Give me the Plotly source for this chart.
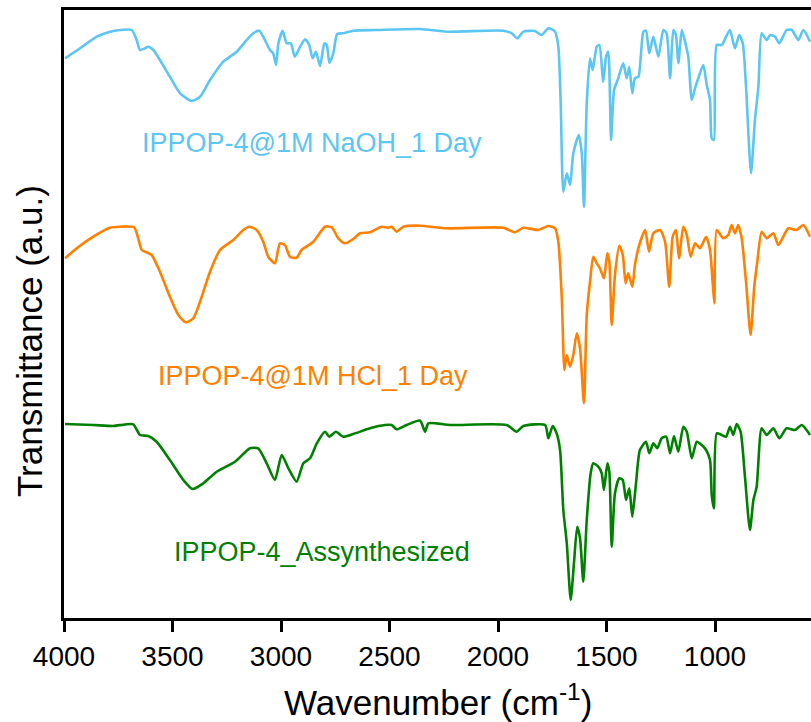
import plotly.graph_objects as go

# ---------------- data (wavenumber cm-1, transmittance a.u. incl. stacking offset) -------------
naoh_wn = [3995, 3926, 3849, 3788, 3742, 3688, 3665, 3650, 3627, 3612, 3588, 3558, 3512, 3465,
           3412, 3373, 3327, 3266, 3204, 3158, 3128, 3100, 3082, 3051, 3036, 3023, 3012, 2992,
           2974, 2955, 2936, 2912, 2889, 2870, 2854, 2839, 2820, 2800, 2789, 2777, 2759, 2741,
           2713, 2667, 2559, 2359, 2236, 1976, 1937, 1911, 1883, 1830, 1799, 1768, 1737, 1722,
           1711, 1699, 1683, 1668, 1653, 1628, 1614, 1604, 1591, 1576, 1564, 1545, 1533, 1515,
           1502, 1492, 1479, 1465, 1446, 1423, 1407, 1395, 1381, 1369, 1353, 1330, 1318, 1303,
           1284, 1261, 1238, 1223, 1207, 1192, 1180, 1169, 1153, 1138, 1123, 1107, 1092, 1077,
           1054, 1038, 1023, 1015, 1005, 992, 969, 949, 931, 908, 888, 872, 857, 834, 816, 800,
           785, 762, 746, 723, 704, 670, 646, 616, 593, 562]
naoh_t = [559.7, 569.7, 581.3, 586.3, 588, 588, 578, 568, 569.7, 571.3, 568, 558, 541.3, 524.7,
          517, 521.3, 538, 556.3, 566.3, 578, 584.7, 587.3, 581.3, 568, 564.7, 553, 574.7, 587.3,
          574.7, 574.7, 561.3, 571.3, 578.7, 573, 559.7, 566.3, 552, 574.7, 573, 555.3, 564.7, 584,
          584.7, 587.3, 588, 589, 586.3, 587.3, 584.7, 579.7, 586.3, 587, 583, 589.7, 586.3, 571.3,
          514.7, 426.3, 444.7, 433, 464.7, 483, 464.7, 411.3, 514.7, 559.7, 548, 571.3, 573, 536.3,
          561.3, 566.3, 478, 528, 539.7, 554.7, 539.7, 551.3, 524.7, 539.7, 541.3, 586.3, 587.3, 564.7,
          581.3, 561.3, 588, 584.7, 539.7, 588, 583, 554.7, 588, 576.3, 561.3, 518, 529.7, 539.7,
          553, 533, 518, 479.7, 478, 573, 573, 581.3, 588, 569.7, 583, 574.7, 531.3, 444.7, 498, 531.3,
          584.7, 578, 583, 581.3, 574.7, 588, 588, 578, 588, 576.3]

hcl_wn = [3995, 3941, 3865, 3788, 3742, 3677, 3658, 3642, 3619, 3596, 3558, 3512, 3473, 3438,
          3404, 3373, 3327, 3281, 3220, 3174, 3146, 3112, 3082, 3059, 3028, 3005, 2982, 2959,
          2928, 2905, 2851, 2797, 2766, 2736, 2705, 2667, 2636, 2590, 2536, 2506, 2490, 2467,
          2436, 2359, 2236, 1976, 1922, 1883, 1814, 1768, 1737, 1722, 1706, 1694, 1683, 1668,
          1653, 1637, 1622, 1604, 1591, 1576, 1561, 1545, 1530, 1512, 1496, 1487, 1476, 1461,
          1441, 1425, 1412, 1400, 1381, 1369, 1349, 1322, 1304, 1284, 1253, 1230, 1211, 1195,
          1180, 1166, 1146, 1130, 1112, 1092, 1069, 1041, 1023, 1011, 1003, 992, 962, 939, 923,
          908, 893, 877, 857, 836, 819, 805, 785, 762, 731, 708, 662, 624, 593, 562]
hcl_t = [359.7, 369.7, 381.3, 390.3, 391.3, 390.7, 379.7, 368, 365.7, 363, 346.3, 321.3, 303, 295.7,
         299.7, 316.3, 346.3, 368, 378, 388, 391.3, 388, 376.3, 361.3, 354.7, 374.7, 373, 361.3,
         360.3, 368, 376.3, 391.3, 390.7, 379.7, 374.7, 379, 384.7, 385.7, 391.3, 390.3, 391.3, 386.3,
         391.3, 392.3, 389.7, 390.3, 385.7, 390.3, 388, 392, 389.7, 376.3, 319.7, 248, 263, 251.3,
         263, 284.7, 269.7, 214.7, 303, 336.3, 361.3, 354.7, 349.7, 339.7, 364.7, 356.3, 293, 343,
         372.3, 363, 334.7, 344.7, 331.3, 353, 373, 388, 366.3, 384.7, 388, 376.3, 331.3, 381.3,
         388, 359.7, 391.3, 383, 361.3, 374.7, 369.7, 381.3, 368, 336.3, 314.7, 388, 379.7, 383, 393,
         384.7, 393, 379.7, 336.3, 283, 331.3, 356.3, 386.3, 379.7, 384.7, 373, 389.7, 388, 393, 381.3]

asyn_wn = [3995, 3865, 3773, 3681, 3650, 3612, 3573, 3512, 3450, 3407, 3358, 3296, 3212, 3143,
           3105, 3066, 3028, 2997, 2966, 2928, 2897, 2866, 2835, 2797, 2777, 2747, 2713, 2667,
           2590, 2521, 2490, 2467, 2421, 2359, 2336, 2321, 2221, 1960, 1914, 1883, 1783, 1768,
           1748, 1730, 1714, 1699, 1683, 1665, 1650, 1635, 1622, 1607, 1591, 1573, 1561, 1538,
           1522, 1512, 1496, 1487, 1476, 1461, 1441, 1425, 1410, 1395, 1381, 1364, 1346, 1318,
           1303, 1284, 1266, 1246, 1225, 1207, 1189, 1169, 1146, 1130, 1107, 1084, 1061, 1041,
           1023, 1015, 1005, 992, 969, 949, 931, 916, 900, 882, 862, 839, 823, 808, 785, 762, 731,
           704, 670, 631, 600, 562]
asyn_t = [194, 193, 192, 193.7, 183, 182, 176.3, 158, 138, 129, 134.7, 146.3, 156.3, 169.7,
          169.7, 154.7, 138, 163, 149.7, 136.3, 154.7, 159.7, 174.7, 186.3, 181.3, 186.3, 181.3, 184,
          189.7, 193, 193, 188.7, 193, 197.3, 186.3, 194.7, 193, 193, 186.3, 192, 193, 179.7,
          192, 184.7, 168, 108, 74.7, 18, 54.7, 91.3, 79.7, 36.3, 98, 144.7, 154.7, 151.3,
          144.7, 128, 154.7, 146.3, 71.3, 124.7, 139.7, 138, 118, 129.7, 101.3, 134.7, 168, 176.3,
          164.7, 174.7, 169.7, 179.7, 181.3, 164.7, 182, 166.3, 191.3, 186.3, 159.7, 176.3, 173, 168,
          158, 123, 109.7, 184.7, 183, 181.3, 191.3, 183, 194, 186.3, 141.3, 88, 118, 131.3, 189.7, 183, 189.7,
          179.7, 189.7, 188, 193, 183]

series_names = ["IPPOP-4@1M NaOH_1 Day", "IPPOP-4@1M HCl_1 Day", "IPPOP-4_Assynthesized"]
series_colors = ["#5CC6F3", "#FF8000", "#008000"]
label_wn = [3650, 3576, 3502]
label_t = [475, 242, 66]

tick_vals = [4000, 3500, 3000, 2500, 2000, 1500, 1000]
x_range = [4000, 557.6]
y_range = [0, 608]

FONT = "Arial, Liberation Sans, sans-serif"

fig = go.Figure()
for wn, t, name, col in zip([naoh_wn, hcl_wn, asyn_wn], [naoh_t, hcl_t, asyn_t],
                             series_names, series_colors):
    fig.add_trace(go.Scatter(x=wn, y=t, mode="lines", name=name,
                             line=dict(color=col, width=2.6, shape="spline", smoothing=0.6),
                             showlegend=False))

annotations = []
for name, col, lx, ly in zip(series_names, series_colors, label_wn, label_t):
    annotations.append(dict(x=lx, y=ly, xref="x", yref="y", text=name, showarrow=False,
                            xanchor="left", yanchor="middle",
                            font=dict(family=FONT, size=27, color=col)))

annotations.append(dict(x=0.5007, y=-0.135, xref="paper", yref="paper",
                        text="Wavenumber (cm<sup>-1</sup>)", showarrow=False,
                        xanchor="center", yanchor="middle",
                        font=dict(family=FONT, size=35, color="black")))
annotations.append(dict(x=-0.046, y=0.455, xref="paper", yref="paper",
                        text="Transmittance (a.u.)", showarrow=False, textangle=-90,
                        xanchor="center", yanchor="middle",
                        font=dict(family=FONT, size=35, color="black")))

fig.update_layout(
    width=811, height=722,
    margin=dict(l=64, r=0, t=10, b=104),
    paper_bgcolor="white", plot_bgcolor="white",
    font=dict(family=FONT, color="black"),
    annotations=annotations,
    xaxis=dict(range=x_range, tickvals=tick_vals, ticktext=[str(v) for v in tick_vals],
               showgrid=False, zeroline=False, showline=True, linecolor="black", linewidth=3,
               mirror=True, ticks="outside", ticklen=11, tickwidth=2.5, tickcolor="black",
               tickfont=dict(family=FONT, size=28, color="black")),
    yaxis=dict(range=y_range, showgrid=False, zeroline=False, showline=True, linecolor="black",
               linewidth=3, mirror=False, ticks="", showticklabels=False),
)

fig.write_html("out.html")
